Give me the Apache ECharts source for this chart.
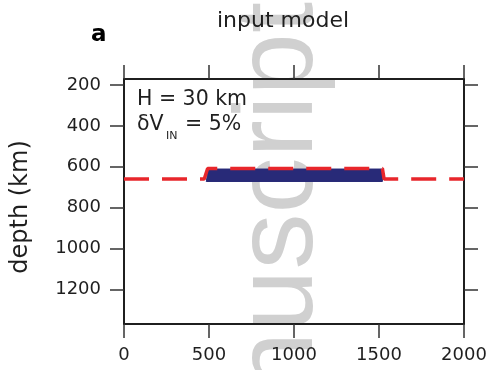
<!DOCTYPE html>
<html>
<head>
<meta charset="utf-8">
<script src="https://cdn.jsdelivr.net/npm/echarts@6/dist/echarts.min.js"></script>
<style>
  html, body { margin: 0; padding: 0; background: #fff; }
  #chart { width: 490px; height: 370px; }
</style>
</head>
<body>
<div id="chart"></div>
<script>
// distance along profile (km) / depth (km)
const xTicks = [0, 500, 1000, 1500, 2000]
const yTicks = [200, 400, 600, 800, 1000, 1200]

// red dashed line: 660 km discontinuity with the raised block
const boundaryX = [0, 472, 492, 1520, 1530, 2000]
const boundaryDepth = [660, 660, 608, 608, 660, 660]

// blue anomaly block outline
const blockX = [496, 1520, 1520, 484]
const blockDepth = [611, 611, 672, 672]

const FONT = 'DejaVu Sans'
const INK = '#1f1f1f'

const chart = echarts.init(document.getElementById('chart'), null, { renderer: 'canvas' })

const frameAxis = {
  axisLine: { show: true, onZero: false, lineStyle: { color: INK, width: 2 } },
  axisTick: { show: true, inside: false, length: 14, lineStyle: { color: '#333', width: 1.5 } },
  splitLine: { show: false }
}

// zrender has no baseline alignment, so texts are placed by their top edge
const label = (text, x, y, font, extra) => ({
  type: 'text', x, y, z: 10,
  style: { text, fill: INK, font, textAlign: 'left', textVerticalAlign: 'top', ...extra }
})

chart.setOption({
  animation: false,
  backgroundColor: '#fff',
  grid: { left: 124, right: 26, top: 79, bottom: 46, containLabel: false },
  xAxis: [
    {
      ...frameAxis,
      type: 'value', position: 'bottom', min: 0, max: 2000, interval: 500,
      axisLabel: { color: INK, fontFamily: FONT, fontSize: 18, margin: 22, formatter: (v) => String(v) }
    },
    {
      ...frameAxis,
      type: 'value', position: 'top', min: 0, max: 2000, interval: 500,
      axisLabel: { show: false }
    }
  ],
  yAxis: [
    {
      ...frameAxis,
      type: 'value', position: 'left', inverse: true, min: 170, max: 1370,
      axisTick: { ...frameAxis.axisTick, customValues: yTicks },
      axisLabel: { color: INK, fontFamily: FONT, fontSize: 18, margin: 23, customValues: yTicks, formatter: (v) => String(v) }
    },
    {
      ...frameAxis,
      type: 'value', position: 'right', inverse: true, min: 170, max: 1370,
      axisTick: { ...frameAxis.axisTick, customValues: yTicks },
      axisLabel: { show: false }
    }
  ],
  graphic: [
    // manuscript watermark, behind everything
    {
      type: 'text', x: 337, y: 2, rotation: Math.PI / 2, z: -10,
      style: {
        text: 'manuscript', fill: '#d0d0d0', font: '112px "Liberation Sans"',
        textAlign: 'right', textVerticalAlign: 'bottom'
      }
    },
    label('input model', 283, 10, '22px "DejaVu Sans"', { textAlign: 'center' }),
    label('a', 91, 24, 'bold 23px "DejaVu Sans"', { fill: '#000' }),
    {
      type: 'text', x: 21, y: 207, rotation: Math.PI / 2, z: 10,
      style: { text: 'depth (km)', fill: INK, font: '24px "DejaVu Sans"', textAlign: 'center', textVerticalAlign: 'middle' }
    },
    label('H = 30 km', 137, 89, '20.5px "DejaVu Sans"'),
    label('δV', 137, 114, '20.5px "DejaVu Sans"'),
    label('IN', 166, 130.5, '11px "DejaVu Sans"'),
    label('= 5%', 185, 114, '20.5px "DejaVu Sans"')
  ],
  series: [
    {
      name: 'anomaly',
      type: 'custom',
      xAxisIndex: 0, yAxisIndex: 0,
      z: 3,
      data: [[blockX[0], blockDepth[0]]],
      renderItem: (params, api) => {
        const points = blockX.map((x, i) => api.coord([x, blockDepth[i]]))
        return {
          type: 'polygon',
          shape: { points },
          style: { fill: '#282a78', stroke: '#282a78', lineWidth: 1 }
        }
      }
    },
    {
      name: 'boundary',
      type: 'line',
      xAxisIndex: 0, yAxisIndex: 0,
      z: 4,
      data: boundaryX.map((x, i) => [x, boundaryDepth[i]]),
      showSymbol: false,
      symbol: 'none',
      lineStyle: { color: '#e8262b', width: 3.5, type: [25, 13] }
    }
  ]
})
</script>
</body>
</html>
